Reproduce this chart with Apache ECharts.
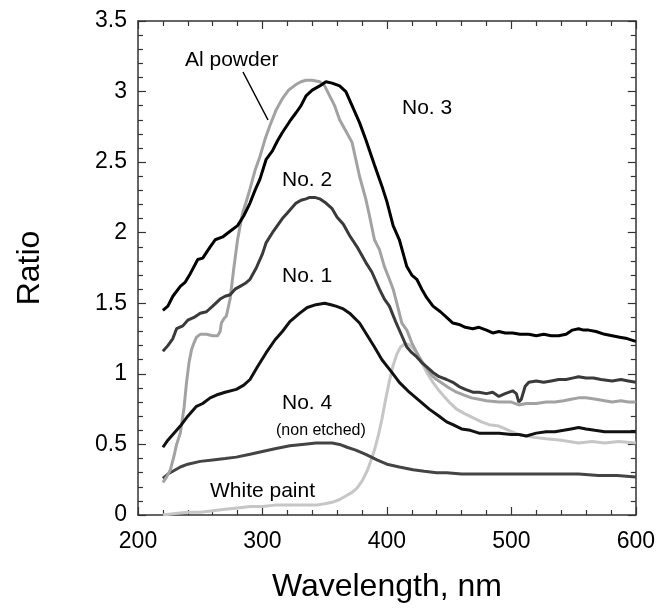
<!DOCTYPE html>
<html>
<head>
<meta charset="utf-8">
<script src="https://cdn.jsdelivr.net/npm/echarts@6/dist/echarts.min.js"></script>
<style>
    html, body { margin: 0; padding: 0; background: #fff; }
    #chart { width: 658px; height: 609px; }
</style>
</head>
<body>
<div id="chart"></div>
<script>
// sample No. 3
let no3X = [220, 224, 228, 234, 238, 242, 248, 252, 258, 262, 268, 274, 280, 285, 290, 294, 298, 303, 308, 312, 316, 322, 327, 331, 335, 340, 346, 351, 356, 362, 367, 372, 378, 383, 390, 396, 400, 405, 410, 416, 420, 424, 428, 432, 437, 443, 448, 453, 458, 463, 469, 474, 480, 485, 490, 495, 501, 507, 514, 520, 526, 532, 538, 544, 549, 554, 558, 562, 568, 575, 581, 587, 593, 600]
let no3Y = [1.45, 1.48, 1.55, 1.62, 1.65, 1.71, 1.81, 1.82, 1.90, 1.95, 1.97, 2.01, 2.05, 2.12, 2.21, 2.30, 2.38, 2.52, 2.58, 2.65, 2.71, 2.79, 2.85, 2.90, 2.97, 3.01, 3.04, 3.07, 3.06, 3.04, 3.00, 2.90, 2.78, 2.66, 2.48, 2.33, 2.22, 2.05, 1.95, 1.76, 1.70, 1.67, 1.60, 1.54, 1.48, 1.44, 1.40, 1.36, 1.35, 1.33, 1.32, 1.33, 1.31, 1.29, 1.30, 1.29, 1.29, 1.28, 1.28, 1.27, 1.28, 1.27, 1.27, 1.28, 1.31, 1.32, 1.31, 1.31, 1.30, 1.28, 1.27, 1.26, 1.25, 1.23]

// sample No. 2
let no2X = [220, 224, 228, 231, 236, 240, 245, 250, 255, 260, 266, 270, 274, 278, 282, 286, 290, 295, 300, 303, 308, 312, 316, 320, 324, 327, 331, 335, 338, 342, 346, 351, 356, 360, 365, 370, 376, 383, 388, 394, 398, 402, 407, 412, 416, 420, 424, 428, 432, 437, 442, 448, 453, 458, 463, 469, 474, 480, 485, 490, 495, 501, 504, 506, 508, 511, 514, 520, 526, 532, 538, 544, 549, 554, 560, 566, 572, 581, 588, 594, 600]
let no2Y = [1.16, 1.20, 1.25, 1.32, 1.34, 1.38, 1.40, 1.43, 1.44, 1.48, 1.53, 1.55, 1.56, 1.60, 1.62, 1.64, 1.67, 1.75, 1.85, 1.93, 2.00, 2.05, 2.10, 2.14, 2.18, 2.21, 2.23, 2.24, 2.25, 2.25, 2.24, 2.21, 2.17, 2.11, 2.06, 1.98, 1.90, 1.79, 1.72, 1.60, 1.53, 1.48, 1.37, 1.27, 1.19, 1.15, 1.12, 1.08, 1.05, 1.01, 0.98, 0.96, 0.94, 0.91, 0.89, 0.87, 0.87, 0.86, 0.87, 0.84, 0.86, 0.88, 0.86, 0.80, 0.82, 0.91, 0.94, 0.95, 0.94, 0.95, 0.96, 0.96, 0.97, 0.98, 0.97, 0.97, 0.96, 0.95, 0.96, 0.95, 0.94]

// Al powder
let alX = [220, 223, 226, 229, 231, 234, 237, 239, 241, 243, 245, 247, 250, 255, 260, 264, 266, 267, 269, 271, 274, 277, 280, 284, 287, 290, 294, 298, 302, 306, 311, 316, 321, 327, 331, 335, 340, 346, 350, 354, 358, 362, 367, 372, 378, 383, 386, 390, 394, 398, 402, 405, 408, 412, 416, 420, 424, 428, 432, 436, 440, 445, 450, 456, 462, 468, 474, 480, 490, 500, 506, 512, 520, 528, 535, 542, 548, 554, 560, 568, 575, 581, 588, 594, 600]
let alY = [0.23, 0.27, 0.32, 0.42, 0.50, 0.58, 0.76, 0.94, 1.08, 1.17, 1.22, 1.26, 1.28, 1.28, 1.27, 1.27, 1.30, 1.36, 1.39, 1.41, 1.53, 1.75, 1.95, 2.14, 2.22, 2.31, 2.44, 2.54, 2.66, 2.76, 2.87, 2.95, 3.01, 3.05, 3.07, 3.08, 3.08, 3.07, 3.04, 2.97, 2.90, 2.80, 2.72, 2.64, 2.40, 2.24, 2.12, 1.95, 1.88, 1.76, 1.67, 1.60, 1.50, 1.36, 1.31, 1.22, 1.15, 1.09, 1.04, 0.99, 0.96, 0.93, 0.90, 0.87, 0.85, 0.83, 0.82, 0.81, 0.80, 0.80, 0.78, 0.79, 0.79, 0.80, 0.80, 0.81, 0.82, 0.83, 0.83, 0.82, 0.81, 0.80, 0.81, 0.80, 0.80]

// white paint
let paintX = [220, 230, 240, 250, 260, 270, 280, 290, 300, 310, 322, 332, 343, 350, 356, 362, 368, 372, 376, 380, 384, 387, 390, 393, 396, 399, 402, 405, 408, 411, 414, 417, 420, 424, 428, 432, 437, 442, 446, 450, 456, 462, 469, 476, 482, 490, 498, 506, 512, 518, 528, 540, 554, 565, 575, 586, 600]
let paintY = [0.00, 0.01, 0.02, 0.02, 0.03, 0.04, 0.05, 0.06, 0.06, 0.07, 0.07, 0.07, 0.07, 0.08, 0.09, 0.11, 0.14, 0.16, 0.19, 0.24, 0.31, 0.38, 0.46, 0.56, 0.68, 0.82, 0.95, 1.06, 1.14, 1.19, 1.21, 1.21, 1.19, 1.15, 1.08, 1.01, 0.94, 0.88, 0.84, 0.80, 0.75, 0.72, 0.69, 0.66, 0.64, 0.63, 0.60, 0.57, 0.56, 0.55, 0.54, 0.53, 0.51, 0.52, 0.51, 0.52, 0.51]

// sample No. 1
let no1X = [220, 224, 228, 234, 240, 247, 252, 258, 263, 270, 279, 285, 290, 296, 303, 310, 316, 322, 330, 336, 343, 350, 355, 359, 365, 370, 378, 383, 390, 396, 404, 410, 418, 426, 434, 442, 448, 453, 460, 467, 474, 480, 490, 500, 506, 512, 520, 528, 535, 542, 548, 554, 560, 567, 575, 581, 590, 600]
let no1Y = [0.48, 0.53, 0.57, 0.63, 0.70, 0.77, 0.79, 0.83, 0.85, 0.87, 0.89, 0.92, 0.96, 1.05, 1.15, 1.24, 1.30, 1.37, 1.43, 1.47, 1.49, 1.50, 1.49, 1.48, 1.46, 1.43, 1.36, 1.29, 1.19, 1.10, 1.01, 0.94, 0.87, 0.81, 0.75, 0.70, 0.66, 0.64, 0.61, 0.60, 0.58, 0.58, 0.58, 0.57, 0.57, 0.56, 0.58, 0.59, 0.59, 0.60, 0.61, 0.62, 0.61, 0.60, 0.59, 0.59, 0.59, 0.59]

// sample No. 4 (non etched)
let no4X = [220, 224, 228, 234, 240, 250, 260, 270, 279, 290, 300, 310, 322, 332, 343, 350, 356, 362, 368, 375, 383, 392, 400, 410, 421, 430, 440, 448, 460, 474, 490, 501, 515, 530, 545, 554, 570, 585, 600]
let no4Y = [0.26, 0.29, 0.31, 0.34, 0.36, 0.38, 0.39, 0.40, 0.41, 0.43, 0.45, 0.47, 0.49, 0.50, 0.51, 0.51, 0.51, 0.50, 0.48, 0.46, 0.43, 0.39, 0.36, 0.34, 0.32, 0.31, 0.30, 0.30, 0.29, 0.29, 0.29, 0.29, 0.29, 0.29, 0.29, 0.29, 0.28, 0.28, 0.27]

function pairs(xs, ys) {
    return xs.map((x, i) => [x, ys[i]])
}

let font = '"Liberation Sans", Arial, sans-serif'
let axisColor = '#333'

function makeLine(name, xs, ys, color, z) {
    return {
        name: name,
        type: 'line',
        data: pairs(xs, ys),
        showSymbol: false,
        symbol: 'none',
        z: z,
        lineStyle: { color: color, width: 3 },
        animation: false
    }
}

let tickStyle = { show: true, inside: true, length: 8, lineStyle: { color: axisColor, width: 1.2 } }
let minorStyle = { show: true, splitNumber: 5, length: 5, lineStyle: { color: axisColor, width: 1.2 } }

let chart = echarts.init(document.getElementById('chart'))
let option = {
    backgroundColor: '#fff',
    animation: false,
    grid: { left: 138, right: 21, top: 21, bottom: 94 },
    xAxis: [{
        type: 'value',
        min: 200, max: 600, interval: 100,
        name: 'Wavelength, nm',
        nameLocation: 'middle',
        nameGap: 56,
        nameTextStyle: { fontFamily: font, fontSize: 32, color: '#000' },
        axisLine: { show: true, onZero: false, lineStyle: { color: axisColor, width: 1.5 } },
        axisTick: tickStyle,
        minorTick: minorStyle,
        axisLabel: { fontFamily: font, fontSize: 23, color: '#000', margin: 15 },
        splitLine: { show: false }
    }, {
        type: 'value', position: 'top',
        min: 200, max: 600, interval: 100,
        axisLine: { show: true, onZero: false, lineStyle: { color: axisColor, width: 1.5 } },
        axisTick: tickStyle,
        minorTick: minorStyle,
        axisLabel: { show: false },
        splitLine: { show: false }
    }],
    yAxis: [{
        type: 'value',
        min: 0, max: 3.5, interval: 0.5,
        name: 'Ratio',
        nameLocation: 'middle',
        nameGap: 92,
        nameTextStyle: { fontFamily: font, fontSize: 32, color: '#000' },
        axisLine: { show: true, onZero: false, lineStyle: { color: axisColor, width: 1.5 } },
        axisTick: tickStyle,
        minorTick: minorStyle,
        axisLabel: { fontFamily: font, fontSize: 23, color: '#000', margin: 11 },
        splitLine: { show: false }
    }, {
        type: 'value', position: 'right',
        min: 0, max: 3.5, interval: 0.5,
        axisLine: { show: true, onZero: false, lineStyle: { color: axisColor, width: 1.5 } },
        axisTick: tickStyle,
        minorTick: minorStyle,
        axisLabel: { show: false },
        splitLine: { show: false }
    }],
    series: [
        makeLine('White paint', paintX, paintY, '#c6c6c6', 2),
        makeLine('No. 4', no4X, no4Y, '#444444', 3),
        makeLine('Al powder', alX, alY, '#a2a2a2', 4),
        makeLine('No. 2', no2X, no2Y, '#3a3a3a', 5),
        makeLine('No. 1', no1X, no1Y, '#111111', 6),
        makeLine('No. 3', no3X, no3Y, '#000000', 7)
    ],
    graphic: [
        { type: 'text', left: 185, top: 50, style: { text: 'Al powder', font: '21px ' + font, fill: '#000' } },
        { type: 'line', shape: { x1: 243, y1: 72, x2: 268, y2: 120 }, style: { stroke: '#000', lineWidth: 1.5 } },
        { type: 'text', left: 402, top: 98, style: { text: 'No. 3', font: '21px ' + font, fill: '#000' } },
        { type: 'text', left: 282, top: 170, style: { text: 'No. 2', font: '21px ' + font, fill: '#000' } },
        { type: 'text', left: 282, top: 266, style: { text: 'No. 1', font: '21px ' + font, fill: '#000' } },
        { type: 'text', left: 282, top: 393, style: { text: 'No. 4', font: '21px ' + font, fill: '#000' } },
        { type: 'text', left: 276, top: 423, style: { text: '(non etched)', font: '16px ' + font, fill: '#000' } },
        { type: 'text', left: 210, top: 481, style: { text: 'White paint', font: '21px ' + font, fill: '#000' } }
    ]
}
chart.setOption(option)
window.addEventListener('resize', function() {
    chart.resize()
})
</script>
</body>
</html>
